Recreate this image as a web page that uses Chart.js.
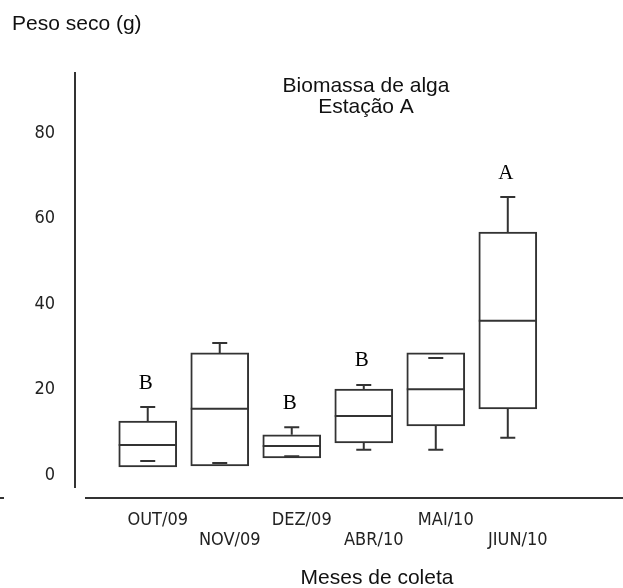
<!DOCTYPE html>
<html>
<head>
<meta charset="utf-8">
<title>Biomassa de alga - Estação A</title>
<script src="https://cdn.jsdelivr.net/npm/chart.js@4"></script>
<style>
  html, body { margin: 0; padding: 0; background: #fff; }
  #wrap { width: 623px; height: 588px; position: relative; }
</style>
</head>
<body>
<div id="wrap"><canvas id="boxChart"></canvas></div>
<script>
// ======== Data ========
const months = ['OUT/09', 'NOV/09', 'DEZ/09', 'ABR/10', 'MAI/10', 'JIUN/10'];
const whiskerLow = [3.3, 2.8, 4.4, 5.9, 5.9, 8.7];
const quartile1 = [1.9, 2.1, 4.0, 7.5, 11.5, 15.5];
const medians = [7.0, 15.5, 6.8, 13.8, 20.1, 36.1];
const quartile3 = [12.6, 28.6, 9.4, 20.1, 28.6, 56.9];
const whiskerHigh = [15.9, 30.9, 11.2, 21.1, 27.4, 65.1];
const groupLetters = ['B', '', 'B', 'B', '', 'A'];
const yTicks = [0, 20, 40, 60, 80];

// ======== Styles ========
const LINE = '#333';
const tickFont = { family: '"DejaVu Sans Condensed", "Liberation Sans Narrow", sans-serif', size: 18, lineHeight: '20px' };
const textFont = '21px "Liberation Sans", Arial, sans-serif';
const letterFont = '21px "Liberation Serif", "Times New Roman", serif';

// ======== Box plot extras (medians, whiskers, letters, texts) ========
const boxExtras = {
  id: 'boxExtras',
  afterDatasetsDraw(chart) {
    const ctx = chart.ctx;
    const y = chart.scales.y;
    const area = chart.chartArea;
    const bars = chart.getDatasetMeta(0).data;
    const capHalf = 7.5;

    ctx.save();
    ctx.strokeStyle = LINE;
    ctx.lineWidth = 2;

    bars.forEach((bar, i) => {
      const cx = bar.x;
      const half = bar.width / 2;
      const pMed = y.getPixelForValue(medians[i]);
      const pQ1 = y.getPixelForValue(quartile1[i]);
      const pQ3 = y.getPixelForValue(quartile3[i]);
      const pLo = y.getPixelForValue(whiskerLow[i]);
      const pHi = y.getPixelForValue(whiskerHigh[i]);

      ctx.beginPath();
      // median
      ctx.moveTo(cx - half, pMed);
      ctx.lineTo(cx + half, pMed);
      // upper whisker
      if (whiskerHigh[i] > quartile3[i]) {
        ctx.moveTo(cx, pQ3);
        ctx.lineTo(cx, pHi);
      }
      ctx.moveTo(cx - capHalf, pHi);
      ctx.lineTo(cx + capHalf, pHi);
      // lower whisker
      if (whiskerLow[i] < quartile1[i]) {
        ctx.moveTo(cx, pQ1);
        ctx.lineTo(cx, pLo);
      }
      ctx.moveTo(cx - capHalf, pLo);
      ctx.lineTo(cx + capHalf, pLo);
      ctx.stroke();

      // significance letters
      if (groupLetters[i]) {
        ctx.fillStyle = '#000';
        ctx.font = letterFont;
        ctx.textAlign = 'center';
        ctx.textBaseline = 'middle';
        ctx.fillText(groupLetters[i], cx - 2, pHi - 24);
      }
    });

    // x baseline, detached from the y axis
    const baseY = area.bottom + 11;
    ctx.beginPath();
    ctx.moveTo(area.left + 10, baseY);
    ctx.lineTo(chart.width, baseY);
    ctx.moveTo(0, baseY);
    ctx.lineTo(4, baseY);
    ctx.stroke();

    // captions and chart title
    ctx.fillStyle = '#111';
    ctx.font = textFont;
    ctx.textBaseline = 'alphabetic';
    ctx.textAlign = 'left';
    ctx.fillText('Peso seco (g)', 12, 30);
    ctx.textAlign = 'center';
    ctx.fillText('Biomassa de alga', 366, 92);
    ctx.fillText('Estação A', 366, 113);
    ctx.fillText('Meses de coleta', 377, 584);
    ctx.restore();
  }
};

// ======== Chart ========
const boxData = months.map((m, i) => ({ x: i, y: [quartile1[i], quartile3[i]] }));

new Chart(document.getElementById('boxChart'), {
  type: 'bar',
  data: {
    datasets: [{
      data: boxData,
      backgroundColor: '#fff',
      borderColor: LINE,
      borderWidth: 2,
      borderSkipped: false,
      barThickness: 58
    }]
  },
  options: {
    responsive: true,
    maintainAspectRatio: false,
    animation: false,
    layout: { padding: { top: 73, left: 0, right: 0, bottom: 0 } },
    plugins: {
      legend: { display: false },
      tooltip: { enabled: false }
    },
    scales: {
      x: {
        type: 'linear',
        offset: false,
        min: -1.01,
        max: 6.6,
        grid: { display: false, drawTicks: false },
        border: { display: false },
        afterBuildTicks: (scale) => { scale.ticks = months.map((m, i) => ({ value: i })); },
        afterFit: (scale) => { scale.height = 101; },
        ticks: {
          autoSkip: false,
          maxRotation: 0,
          padding: 23,
          labelOffset: 10,
          color: '#222',
          font: tickFont,
          callback: (value, index) => index % 2 ? ['', months[index]] : months[index]
        }
      },
      y: {
        min: -2.81,
        max: 94.15,
        grid: { display: false, drawTicks: false },
        border: { display: true, color: LINE, width: 2 },
        afterBuildTicks: (scale) => { scale.ticks = yTicks.map(v => ({ value: v })); },
        afterFit: (scale) => { scale.width = 75; },
        ticks: {
          padding: 20,
          color: '#222',
          font: tickFont
        }
      }
    }
  },
  plugins: [boxExtras]
});
</script>
</body>
</html>
